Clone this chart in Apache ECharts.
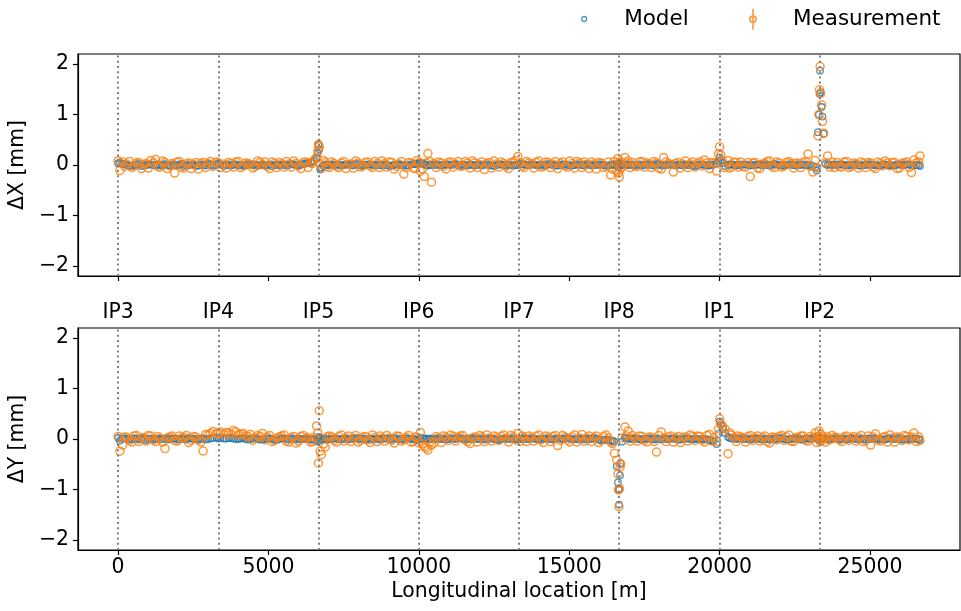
<!DOCTYPE html>
<html>
<head>
<meta charset="utf-8">
<script src="https://cdn.jsdelivr.net/npm/echarts@6/dist/echarts.min.js"></script>
<style>
  html, body { margin: 0; padding: 0; background: #fff; }
  #chart { width: 961px; height: 611px; }
</style>
</head>
<body>
<div id="chart"></div>
<script>
// Interaction points and their longitudinal positions [m]
const ipNames = ['IP3', 'IP4', 'IP5', 'IP6', 'IP7', 'IP8', 'IP1', 'IP2'];
const ipS = [0, 3332, 6664, 9997, 13329, 16661, 19994, 23326];

// x-axis tick labels [m] and y-axis tick labels [mm]
const sTicks = [0, 5000, 10000, 15000, 20000, 25000];
const offsetTicks = [-2, -1, 0, 1, 2];

// BPM longitudinal positions [m], one line per sector starting at IP3
const bpmS = [
  0, 60, 150, 220, 300, 380, 460, 535, 610, 695, 780, 855, 930, 1010, 1090, 1170, 1250, 1325, 1400, 1480, 1560, 1640, 1720, 1800, 1880, 1960, 2040, 2115, 2190, 2270, 2350, 2430, 2510, 2590, 2670, 2750, 2830, 2910, 2990, 3070, 3150, 3270, 3330, 3400, 3520,
  3600, 3680, 3760, 3840, 3920, 4000, 4080, 4160, 4240, 4320, 4400, 4480, 4560, 4640, 4720, 4800, 4880, 4960, 5040, 5120, 5200, 5280, 5360, 5440, 5520, 5600, 5680, 5760, 5840, 5920, 6000, 6080, 6160, 6240, 6320, 6400, 6460, 6520, 6600, 6640, 6660, 6690, 6720, 6760, 6830, 6890, 6950, 7020,
  7100, 7180, 7260, 7340, 7420, 7500, 7580, 7660, 7740, 7820, 7900, 7980, 8060, 8140, 8220, 8300, 8380, 8460, 8540, 8620, 8700, 8780, 8860, 8940, 9020, 9100, 9180, 9260, 9340, 9420, 9500, 9580, 9660, 9740, 9820, 9880, 9940, 10000, 10050, 10120, 10180, 10240, 10300, 10360, 10420,
  10500, 10580, 10660, 10740, 10820, 10900, 10980, 11060, 11140, 11220, 11300, 11380, 11460, 11540, 11620, 11700, 11780, 11860, 11940, 12020, 12100, 12180, 12260, 12340, 12420, 12500, 12580, 12660, 12740, 12820, 12900, 12980, 13060, 13140, 13220, 13290, 13380, 13440, 13500, 13580,
  13660, 13740, 13820, 13900, 13980, 14060, 14140, 14220, 14300, 14380, 14460, 14540, 14620, 14700, 14780, 14860, 14940, 15020, 15100, 15180, 15260, 15340, 15420, 15500, 15580, 15660, 15740, 15820, 15900, 15980, 16060, 16140, 16220, 16300, 16380, 16440, 16500, 16580, 16620, 16640, 16655, 16670, 16690, 16710, 16760, 16850, 16900, 16960, 17030,
  17100, 17180, 17260, 17340, 17420, 17500, 17580, 17660, 17740, 17820, 17900, 17980, 18060, 18140, 18220, 18300, 18380, 18460, 18540, 18620, 18700, 18780, 18860, 18940, 19020, 19100, 19180, 19260, 19340, 19420, 19500, 19580, 19660, 19730, 19800, 19900, 19960, 20000, 20040, 20100, 20180, 20280, 20340, 20400, 20480, 20550, 20620,
  20700, 20780, 20860, 20940, 21020, 21100, 21180, 21260, 21340, 21420, 21500, 21580, 21660, 21740, 21820, 21900, 21980, 22060, 22140, 22220, 22300, 22380, 22460, 22540, 22620, 22700, 22780, 22860, 22940, 23020, 23100, 23180, 23230, 23270, 23300, 23320, 23340, 23360, 23390, 23420, 23460, 23520, 23590, 23660, 23740, 23820,
  23900, 23980, 24060, 24140, 24220, 24300, 24380, 24460, 24540, 24620, 24700, 24780, 24860, 24940, 25020, 25100, 25180, 25260, 25340, 25420, 25500, 25580, 25660, 25740, 25820, 25900, 25980, 26060, 26140, 26220, 26300, 26380, 26460, 26540, 26620, 26659
];

// Horizontal orbit difference [mm]
const modelX = [
  0.03, 0.05, 0.02, 0.01, 0.00, -0.02, -0.01, 0.00, 0.01, 0.02, -0.02, -0.01, 0.00, 0.01, 0.01, 0.00, -0.01, 0.01, 0.00, -0.01, 0.02, 0.00, -0.01, 0.01, 0.00, -0.01, 0.01, 0.02, -0.02, -0.01, 0.00, 0.01, 0.01, -0.02, -0.01, 0.01, 0.00, -0.01, 0.02, 0.01, -0.01, 0.00, 0.03, 0.01, -0.02,
  0.01, 0.00, -0.01, 0.01, 0.01, -0.01, 0.00, 0.00, -0.01, 0.02, 0.01, 0.00, 0.01, -0.01, 0.00, 0.01, -0.01, 0.00, 0.01, -0.02, 0.00, 0.01, -0.01, 0.00, 0.01, -0.01, 0.00, 0.02, 0.01, 0.00, -0.01, 0.01, 0.02, 0.03, 0.04, 0.05, 0.06, 0.08, 0.14, 0.24, 0.40, 0.31, -0.09, -0.05, -0.02, 0.01, 0.00, 0.00,
  0.01, 0.00, 0.00, 0.01, -0.01, 0.00, 0.01, 0.01, 0.00, -0.01, 0.02, 0.01, -0.01, 0.00, 0.00, 0.01, 0.01, 0.00, -0.01, 0.01, 0.00, -0.01, 0.01, 0.00, -0.02, -0.01, 0.00, 0.01, 0.01, 0.00, 0.00, -0.01, -0.01, 0.01, 0.02, 0.02, 0.03, 0.03, 0.04, 0.03, 0.02, 0.00, -0.01, 0.00, 0.00,
  0.01, 0.00, 0.01, -0.01, 0.00, 0.01, 0.01, 0.00, 0.01, 0.02, 0.00, -0.01, 0.01, 0.00, -0.01, 0.01, 0.00, -0.01, 0.01, 0.00, -0.01, 0.01, 0.01, 0.00, -0.01, -0.02, 0.00, 0.01, 0.01, 0.00, -0.01, 0.01, 0.00, -0.01, 0.00, 0.00, 0.02, 0.01, 0.01, 0.00,
  0.00, 0.01, 0.01, 0.00, -0.01, 0.01, 0.00, -0.01, 0.02, 0.01, 0.00, -0.01, -0.01, 0.00, 0.01, 0.01, 0.00, -0.01, -0.01, 0.00, 0.01, 0.01, 0.00, -0.01, 0.02, 0.01, -0.01, 0.00, 0.00, 0.01, 0.01, 0.00, -0.01, -0.01, 0.00, 0.01, 0.01, -0.02, -0.03, 0.02, 0.04, -0.02, 0.01, -0.01, 0.00, 0.01, 0.01, 0.00, 0.00,
  0.01, 0.00, 0.00, 0.01, -0.01, 0.00, 0.01, 0.01, 0.00, -0.01, 0.02, 0.01, -0.01, 0.00, 0.00, 0.01, 0.01, 0.00, -0.01, 0.01, 0.00, -0.01, 0.01, 0.00, 0.00, -0.01, -0.02, 0.00, 0.01, 0.01, 0.00, -0.01, -0.01, 0.00, 0.01, 0.03, 0.08, 0.15, 0.10, 0.04, -0.02, 0.00, 0.01, 0.01, 0.00, -0.01, 0.00,
  0.00, 0.01, 0.01, 0.00, -0.01, 0.00, 0.00, 0.01, 0.01, -0.01, 0.00, 0.01, -0.01, 0.00, 0.02, 0.01, 0.00, -0.01, -0.01, 0.00, 0.01, 0.01, 0.00, -0.01, 0.01, 0.00, 0.01, 0.00, -0.01, 0.00, -0.02, -0.05, -0.11, 0.65, 1.00, 1.41, 1.87, 1.44, 1.15, 0.96, 0.62, 0.02, 0.00, 0.01, 0.00, 0.01,
  0.00, 0.01, 0.01, 0.00, -0.01, 0.00, 0.00, 0.01, 0.01, -0.01, -0.01, 0.00, 0.00, 0.01, 0.01, 0.00, 0.00, -0.01, -0.01, 0.01, 0.01, 0.00, 0.00, -0.01, -0.01, 0.01, 0.01, 0.00, 0.00, 0.01, 0.01, -0.01, -0.01, 0.00, 0.00, -0.02
];
const measX = [
  0.08, -0.11, 0.06, -0.03, 0.02, 0.07, -0.05, -0.02, 0.04, 0.05, -0.07, 0.01, 0.03, -0.06, 0.09, 0.04, 0.11, -0.03, -0.04, 0.08, 0.05, -0.07, -0.02, 0.03, -0.16, 0.06, 0.07, -0.04, -0.06, 0.02, 0.04, -0.07, 0.01, 0.05, -0.08, 0.03, 0.05, -0.05, 0.03, 0.07, -0.03, 0.06, 0.04, -0.05, 0.02,
  -0.06, 0.05, 0.03, -0.04, 0.06, 0.07, -0.05, -0.02, 0.04, 0.03, 0.01, -0.06, -0.03, 0.08, 0.05, 0.01, 0.06, -0.03, -0.07, 0.06, 0.03, -0.05, 0.05, 0.02, -0.04, 0.07, 0.02, -0.04, 0.08, 0.03, -0.02, -0.07, 0.05, 0.06, -0.05, 0.04, 0.03, 0.10, 0.15, 0.28, 0.41, 0.36, 0.02, -0.06, 0.09, 0.05, -0.03, -0.05,
  0.06, 0.03, -0.03, -0.05, 0.04, 0.07, -0.07, 0.01, 0.02, -0.06, 0.08, 0.04, -0.04, -0.02, 0.05, 0.06, -0.02, -0.05, 0.07, 0.03, -0.05, 0.08, 0.03, -0.04, 0.06, 0.05, -0.08, -0.03, 0.02, 0.07, -0.18, -0.05, 0.05, 0.04, -0.06, -0.07, 0.09, 0.05, -0.12, -0.08, -0.23, 0.04, 0.23, 0.07, -0.34,
  0.03, -0.05, 0.06, 0.04, -0.03, -0.08, 0.05, 0.06, -0.04, 0.02, 0.07, -0.03, -0.02, 0.07, 0.04, -0.06, 0.08, 0.04, -0.05, 0.01, 0.06, -0.09, 0.03, 0.05, -0.06, 0.08, 0.02, -0.04, 0.06, 0.03, -0.03, -0.07, 0.05, 0.06, 0.09, 0.17, 0.04, -0.02, -0.05, 0.07,
  0.04, 0.02, -0.06, 0.05, 0.08, -0.04, -0.03, 0.06, 0.05, -0.05, 0.02, 0.07, -0.07, 0.03, 0.06, -0.02, -0.04, 0.08, 0.03, -0.06, 0.07, 0.04, -0.05, 0.06, 0.01, -0.07, 0.06, 0.02, -0.08, 0.05, 0.04, -0.05, -0.03, 0.06, -0.20, -0.08, 0.07, -0.12, 0.13, -0.16, 0.05, -0.24, -0.09, 0.06, -0.04, 0.15, 0.04, 0.08, -0.05,
  0.05, -0.02, -0.03, 0.06, 0.07, -0.04, 0.04, 0.02, -0.05, 0.07, 0.04, -0.06, -0.08, 0.15, 0.06, 0.03, 0.01, -0.14, 0.03, 0.05, -0.06, 0.02, 0.08, -0.05, 0.02, 0.06, -0.04, 0.03, 0.06, -0.02, 0.10, 0.04, -0.07, 0.05, 0.04, -0.12, 0.22, 0.36, 0.20, 0.07, -0.05, 0.09, -0.06, -0.03, 0.06, 0.05, -0.04,
  0.06, -0.03, -0.04, 0.05, -0.23, 0.04, 0.05, -0.06, -0.07, 0.02, 0.03, 0.07, 0.08, -0.03, -0.05, 0.06, 0.04, -0.04, -0.02, 0.05, 0.07, 0.03, -0.06, 0.04, 0.03, -0.05, 0.05, 0.07, 0.22, -0.03, -0.14, 0.09, -0.05, 0.58, 1.00, 1.49, 1.95, 1.42, 1.19, 0.86, 0.63, 0.05, 0.18, -0.04, 0.06, -0.05,
  0.05, -0.03, -0.04, 0.06, 0.07, -0.05, -0.03, 0.04, 0.02, -0.06, 0.06, 0.03, -0.05, 0.05, 0.04, -0.04, -0.07, 0.06, 0.03, -0.02, 0.08, 0.04, -0.02, 0.05, 0.05, -0.07, -0.06, 0.03, 0.04, 0.06, -0.05, -0.15, 0.10, 0.04, 0.06, 0.18
];

// Vertical orbit difference [mm]
const modelY = [
  0.02, -0.03, 0.01, 0.01, 0.00, 0.00, -0.01, 0.01, 0.01, -0.01, 0.00, 0.01, -0.02, 0.00, 0.01, -0.01, 0.00, 0.01, -0.01, 0.00, 0.01, -0.01, 0.00, 0.01, 0.01, 0.00, -0.01, 0.01, 0.00, -0.01, 0.02, 0.01, 0.00, 0.00, -0.01, 0.01, 0.01, -0.01, 0.00, 0.01, 0.02, 0.03, 0.01, 0.02, 0.01,
  0.01, 0.02, 0.02, 0.01, 0.00, 0.00, 0.01, 0.02, 0.00, -0.01, 0.00, 0.01, 0.01, 0.00, -0.01, -0.01, 0.00, 0.01, 0.01, 0.00, -0.01, -0.02, 0.00, 0.01, 0.01, 0.00, -0.01, 0.01, 0.00, -0.01, 0.01, 0.00, 0.00, 0.01, 0.00, -0.01, -0.01, 0.00, -0.03, -0.05, 0.02, 0.04, -0.02, 0.01, 0.00, 0.01, -0.01, 0.00,
  0.00, 0.01, 0.01, 0.00, -0.01, 0.01, 0.00, -0.01, 0.01, 0.00, 0.02, 0.01, 0.00, 0.01, -0.01, 0.00, 0.01, -0.01, 0.00, 0.01, -0.01, 0.00, 0.01, 0.01, 0.00, -0.01, 0.02, 0.01, -0.01, 0.00, 0.00, 0.01, 0.01, 0.00, 0.00, -0.01, -0.02, -0.01, 0.01, 0.02, 0.00, 0.01, -0.01, 0.00, 0.01,
  0.00, 0.01, 0.00, 0.00, 0.01, -0.01, 0.00, 0.01, 0.01, 0.00, 0.01, 0.02, 0.00, -0.01, 0.01, 0.00, 0.01, 0.01, 0.00, 0.00, 0.01, -0.01, 0.00, 0.01, 0.01, 0.00, -0.01, -0.02, 0.00, 0.01, 0.00, 0.00, 0.01, 0.01, 0.00, -0.01, 0.00, 0.01, 0.01, 0.00,
  0.00, 0.01, 0.01, 0.00, -0.01, 0.00, 0.01, 0.01, 0.00, 0.00, -0.01, 0.01, 0.01, 0.00, 0.00, 0.01, 0.02, 0.01, -0.01, 0.00, 0.00, -0.01, 0.01, 0.00, -0.01, 0.01, 0.00, 0.01, 0.01, -0.01, -0.02, -0.02, -0.01, -0.02, -0.03, -0.04, -0.05, -0.54, -0.86, -1.00, -1.30, -1.00, -0.72, -0.48, -0.05, 0.03, 0.02, 0.01, 0.00,
  0.01, 0.01, 0.00, 0.00, -0.01, 0.00, 0.01, 0.01, 0.00, -0.01, 0.01, 0.00, -0.01, 0.01, 0.00, 0.00, 0.01, 0.01, 0.00, -0.01, -0.01, 0.00, 0.01, 0.01, 0.00, -0.01, 0.01, 0.00, -0.01, 0.00, 0.00, -0.01, -0.02, -0.03, -0.04, -0.10, 0.10, 0.35, 0.28, 0.20, 0.12, 0.04, 0.02, 0.01, 0.01, 0.00, 0.01,
  0.01, 0.00, 0.00, 0.01, -0.01, 0.00, 0.01, 0.01, 0.00, -0.01, 0.01, 0.00, -0.01, 0.01, 0.00, 0.00, 0.02, 0.01, 0.00, -0.01, -0.01, 0.00, 0.01, 0.01, 0.00, -0.01, -0.01, 0.01, 0.01, 0.00, 0.01, 0.02, 0.03, 0.01, -0.02, 0.00, 0.02, -0.01, 0.01, 0.00, 0.02, 0.00, -0.01, 0.01, 0.00, 0.01,
  0.01, 0.00, 0.00, 0.01, -0.01, 0.00, 0.01, 0.01, 0.00, -0.01, 0.01, 0.00, -0.01, 0.01, 0.00, 0.01, 0.01, 0.00, 0.00, -0.01, -0.01, 0.01, 0.01, 0.00, 0.00, 0.01, 0.01, -0.01, -0.01, 0.00, 0.00, 0.01, 0.01, 0.00, 0.00, -0.02
];
const measY = [
  0.05, -0.24, -0.12, 0.04, 0.03, -0.03, -0.06, 0.06, 0.07, -0.05, 0.02, 0.03, -0.04, 0.07, 0.06, -0.02, -0.05, 0.05, 0.01, -0.06, -0.19, 0.02, 0.04, 0.06, -0.03, -0.04, 0.06, 0.02, 0.03, 0.07, -0.07, -0.03, 0.05, 0.04, -0.02, -0.06, -0.24, 0.09, 0.08, 0.11, 0.15, 0.10, 0.12, 0.14, 0.09,
  0.13, 0.12, 0.09, 0.17, 0.14, 0.08, 0.10, 0.11, 0.06, 0.05, 0.09, -0.03, 0.02, 0.07, 0.05, 0.11, -0.02, 0.04, 0.07, -0.05, -0.03, 0.02, 0.04, 0.06, 0.08, -0.04, -0.06, 0.03, 0.05, -0.08, -0.04, 0.05, 0.07, 0.01, 0.03, -0.06, -0.05, 0.03, 0.26, 0.12, -0.48, 0.56, -0.24, -0.31, -0.10, -0.16, 0.04, 0.06,
  0.04, -0.03, -0.06, 0.05, 0.08, -0.04, 0.02, 0.06, -0.05, 0.01, 0.07, -0.06, -0.03, 0.04, 0.05, -0.02, -0.07, 0.08, 0.03, -0.05, 0.06, 0.02, -0.04, 0.07, 0.02, -0.03, -0.08, 0.06, 0.05, -0.04, -0.02, 0.03, 0.07, -0.06, -0.05, 0.04, 0.03, -0.08, 0.13, -0.10, -0.15, -0.18, -0.22, -0.06, -0.12,
  -0.08, 0.05, 0.02, -0.07, 0.06, 0.03, -0.03, 0.08, 0.05, -0.04, 0.03, 0.06, 0.07, -0.02, -0.05, -0.09, 0.02, 0.04, -0.06, 0.07, 0.04, -0.05, 0.08, 0.02, -0.04, 0.06, 0.03, -0.03, 0.05, 0.08, 0.01, -0.06, 0.07, 0.04, -0.02, 0.11, -0.04, 0.06, 0.03, -0.05,
  0.06, 0.03, -0.04, 0.05, 0.08, -0.02, -0.07, 0.06, 0.03, -0.05, 0.05, 0.07, -0.13, -0.03, 0.07, 0.04, -0.02, -0.06, 0.04, 0.08, -0.06, 0.02, 0.09, -0.04, 0.02, 0.06, -0.05, 0.03, 0.06, -0.07, -0.03, 0.05, 0.08, 0.02, -0.06, -0.09, -0.28, -0.42, -0.69, -1.01, -1.34, -0.98, -0.56, -0.50, 0.02, 0.24, 0.06, 0.16, -0.04,
  0.07, 0.02, -0.04, 0.06, 0.05, -0.03, -0.06, 0.04, 0.03, -0.05, -0.26, 0.07, 0.14, 0.02, -0.05, 0.04, 0.06, -0.06, 0.02, 0.05, -0.07, 0.03, 0.04, -0.04, 0.08, 0.05, -0.03, 0.06, 0.05, -0.02, -0.06, 0.07, 0.09, -0.04, 0.03, -0.05, 0.20, 0.40, 0.30, 0.25, 0.20, -0.29, 0.12, 0.08, 0.03, -0.05, 0.06,
  0.04, 0.02, -0.06, 0.05, 0.07, -0.03, 0.02, 0.06, -0.04, 0.03, 0.06, -0.05, -0.08, 0.04, 0.03, -0.02, 0.05, 0.07, -0.03, 0.04, 0.08, -0.04, -0.05, 0.03, 0.02, 0.06, 0.06, -0.03, -0.04, 0.05, 0.03, 0.12, -0.07, 0.05, 0.16, 0.02, -0.05, 0.09, -0.03, 0.06, 0.01, -0.06, 0.04, -0.02, 0.07, 0.03,
  0.03, -0.02, -0.05, 0.04, 0.06, -0.03, 0.02, 0.05, -0.04, 0.03, 0.07, -0.05, -0.03, 0.06, -0.12, 0.04, 0.10, -0.02, -0.04, 0.03, 0.05, -0.06, 0.08, 0.02, -0.06, 0.04, 0.03, -0.03, 0.07, 0.05, -0.02, 0.04, 0.12, -0.05, 0.04, -0.03
];

[modelX, measX, modelY, measY].forEach((a, i) => {
  if (a.length !== bpmS.length) throw new Error('orbit array ' + i + ' has ' + a.length + ' values, expected ' + bpmS.length);
});

const FONT = 'DejaVu Sans';
const FS = 20.4;
const FS_LEGEND = 21.5;
const BLUE = '#1f77b4';
const ORANGE = '#ff7f0e';
const S_MIN = -1333, S_MAX = 27992;

const pairs = (xs, ys) => xs.map((x, i) => [x, ys[i]]);
const minus = v => String(v).replace('-', '\u2212');

const ipMarkLine = {
  silent: true,
  symbol: 'none',
  animation: false,
  label: { show: false },
  lineStyle: { color: '#808080', type: [2, 3.2], width: 2 },
  data: ipS.map(s => ({ xAxis: s }))
};

function yAxisFor(gridIndex, title) {
  return {
    type: 'value', gridIndex, min: -2.2, max: 2.2,
    name: title, nameLocation: 'middle', nameGap: 40,
    nameTextStyle: { fontFamily: FONT, fontSize: FS, color: '#000' },
    axisLine: { show: true, onZero: false, lineStyle: { color: '#000', width: 1.2 } },
    axisTick: { show: true, length: 5, customValues: offsetTicks, lineStyle: { color: '#000', width: 1.2 } },
    axisLabel: { customValues: offsetTicks, margin: 9, fontFamily: FONT, fontSize: FS, color: '#000', formatter: minus },
    splitLine: { show: false }
  };
}

const hollow = (color, width) => ({ color: 'rgba(0,0,0,0)', borderColor: color, borderWidth: width });

const option = {
  animation: false,
  backgroundColor: '#fff',
  legend: [
    {
      data: [{ name: 'Model', icon: 'circle', itemStyle: hollow(BLUE, 1.3) }],
      left: 581, top: 8, padding: 0, itemWidth: 70, itemHeight: 5,
      textStyle: { fontFamily: FONT, fontSize: FS_LEGEND, color: '#000' }
    },
    {
      data: [{ name: 'Measurement', icon: 'path://M4,0L4,20M7,10A3,3,0,1,1,1,10A3,3,0,1,1,7,10', itemStyle: hollow(ORANGE, 1.6) }],
      left: 749, top: 8, padding: 0, itemWidth: 70, itemHeight: 21,
      textStyle: { fontFamily: FONT, fontSize: FS_LEGEND, color: '#000' }
    }
  ],
  grid: [
    { left: 77, right: 1, top: 54, height: 222, show: true, borderColor: '#000', borderWidth: 1.2, backgroundColor: 'rgba(0,0,0,0)' },
    { left: 77, right: 1, top: 328, height: 222, show: true, borderColor: '#000', borderWidth: 1.2, backgroundColor: 'rgba(0,0,0,0)' }
  ],
  xAxis: [
    {
      type: 'value', gridIndex: 0, min: S_MIN, max: S_MAX,
      axisLine: { show: true, onZero: false, lineStyle: { color: '#000', width: 1.2 } },
      axisTick: { show: true, length: 5, customValues: sTicks, lineStyle: { color: '#000', width: 1.2 } },
      axisLabel: { show: false },
      splitLine: { show: false }
    },
    {
      type: 'value', gridIndex: 1, min: S_MIN, max: S_MAX,
      name: 'Longitudinal location [m]', nameLocation: 'middle', nameGap: 32,
      nameTextStyle: { fontFamily: FONT, fontSize: FS, color: '#000' },
      axisLine: { show: true, onZero: false, lineStyle: { color: '#000', width: 1.2 } },
      axisTick: { show: true, length: 5, customValues: sTicks, lineStyle: { color: '#000', width: 1.2 } },
      axisLabel: { customValues: sTicks, margin: 8, fontFamily: FONT, fontSize: FS, color: '#000', formatter: v => String(v) },
      splitLine: { show: false }
    },
    {
      type: 'value', gridIndex: 1, position: 'top', min: S_MIN, max: S_MAX,
      axisLine: { show: false },
      axisTick: { show: false },
      axisLabel: {
        customValues: ipS, margin: 5, fontFamily: FONT, fontSize: FS, color: '#000',
        formatter: v => ipNames[ipS.indexOf(v)] || ''
      },
      splitLine: { show: false }
    }
  ],
  yAxis: [yAxisFor(0, '\u0394X [mm]'), yAxisFor(1, '\u0394Y [mm]')],
  series: [
    {
      name: 'Model', type: 'scatter', xAxisIndex: 0, yAxisIndex: 0, z: 2,
      data: pairs(bpmS, modelX), symbol: 'circle', symbolSize: 6.5,
      itemStyle: hollow(BLUE, 1.3), markLine: ipMarkLine
    },
    {
      name: 'Measurement', type: 'scatter', xAxisIndex: 0, yAxisIndex: 0, z: 3,
      data: pairs(bpmS, measX), symbol: 'circle', symbolSize: 8,
      itemStyle: hollow(ORANGE, 1.5)
    },
    {
      name: 'Model', type: 'scatter', xAxisIndex: 1, yAxisIndex: 1, z: 2,
      data: pairs(bpmS, modelY), symbol: 'circle', symbolSize: 6.5,
      itemStyle: hollow(BLUE, 1.3), markLine: ipMarkLine
    },
    {
      name: 'Measurement', type: 'scatter', xAxisIndex: 1, yAxisIndex: 1, z: 3,
      data: pairs(bpmS, measY), symbol: 'circle', symbolSize: 8,
      itemStyle: hollow(ORANGE, 1.5)
    }
  ]
};

const chart = echarts.init(document.getElementById('chart'), null, { renderer: 'canvas' });
chart.setOption(option);
</script>
</body>
</html>
